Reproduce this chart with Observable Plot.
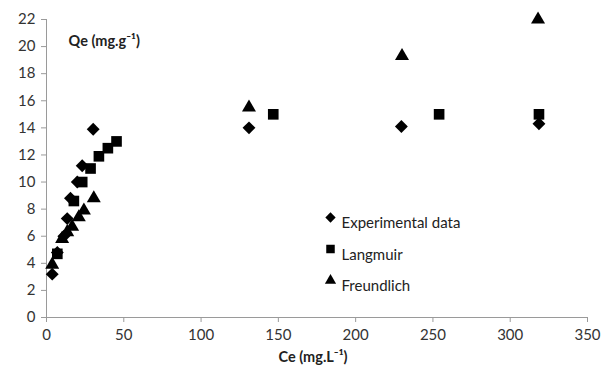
<!DOCTYPE html>
<html>
<head>
<meta charset="utf-8">
<script src="https://cdn.jsdelivr.net/npm/d3@7"></script>
<script src="https://cdn.jsdelivr.net/npm/@observablehq/plot@0.6"></script>
<style>
  html, body { margin: 0; padding: 0; background: #fff; }
  #chart svg { display: block; }
</style>
</head>
<body>
<div id="chart"></div>
<script>
// Experimental data (diamonds)
const expCe = [3.7, 7.0, 11.2, 13.4, 15.5, 19.9, 23.1, 30.2, 131, 229.6, 318.6];
const expQe = [3.2, 4.8, 6.0, 7.3, 8.8, 10.0, 11.2, 13.9, 14.0, 14.1, 14.3];
// Langmuir (squares)
const lanCe = [7.0, 17.7, 23.1, 28.5, 33.9, 39.7, 45.3, 146.7, 254, 318.6];
const lanQe = [4.7, 8.6, 10.0, 11.0, 11.9, 12.5, 13.0, 15.0, 15.0, 15.0];
// Freundlich (triangles)
const freCe = [3.7, 10.1, 13.4, 16.6, 20.9, 24.2, 30.6, 131, 230, 318];
const freQe = [3.9, 5.8, 6.3, 6.7, 7.4, 7.9, 8.8, 15.5, 19.3, 22.0];

const seriesNames = ["Experimental data", "Langmuir", "Freundlich"];
const xTicks = [0, 50, 100, 150, 200, 250, 300, 350];
const yTicks = [0, 2, 4, 6, 8, 10, 12, 14, 16, 18, 20, 22];
const yTitle = "Qe (mg.g⁻¹)";
const xTitle = "Ce (mg.L⁻¹)";

const toRows = (xs, ys) => xs.map((x, i) => ({x, y: ys[i]}));
const expRows = toRows(expCe, expQe);
const lanRows = toRows(lanCe, lanQe);
const freRows = toRows(freCe, freQe);

const symbols = ["diamond2", "square", "triangle"];
const radii = [5.8, 6.0, 5.2];

const legendMarks = [];
seriesNames.forEach((name, i) => {
  legendMarks.push(Plot.dot([name], {frameAnchor: "top-left", dx: 284, dy: 198 + i * 31.5,
    symbol: symbols[i], r: radii[i] * 0.8, fill: "#000", stroke: "none"}));
  legendMarks.push(Plot.text([name], {frameAnchor: "top-left", dx: 295, dy: 198 + i * 31.5,
    text: d => d, textAnchor: "start", fontSize: 15, fill: "#222"}));
});

const chart = Plot.plot({
  width: 605,
  height: 373,
  marginLeft: 46,
  marginRight: 18,
  marginTop: 19,
  marginBottom: 56,
  style: {fontFamily: "Lato, 'Open Sans', sans-serif", fontSize: "14px", background: "#fff"},
  x: {domain: [0, 350], ticks: xTicks, label: null},
  y: {domain: [0, 22], ticks: yTicks, label: null},
  marks: [
    Plot.ruleY([0], {stroke: "#9a9a9a"}),
    Plot.ruleX([0], {stroke: "#9a9a9a"}),
    Plot.axisX({ticks: xTicks, tickSize: 5, tickPadding: 7, stroke: "#9a9a9a", fill: "#333", fontSize: 15, label: null}),
    Plot.axisY({ticks: yTicks, tickSize: 5, tickPadding: 6, stroke: "#9a9a9a", fill: "#333", fontSize: 15, label: null}),
    Plot.dot(expRows, {x: "x", y: "y", symbol: symbols[0], r: radii[0], fill: "#000", stroke: "none"}),
    Plot.dot(lanRows, {x: "x", y: "y", symbol: symbols[1], r: radii[1], fill: "#000", stroke: "none"}),
    Plot.dot(freRows, {x: "x", y: "y", symbol: symbols[2], r: radii[2], fill: "#000", stroke: "none"}),
    Plot.text([yTitle], {frameAnchor: "top-left", dx: 22, dy: 16, text: d => d, textAnchor: "start",
      fontSize: 14.5, fontWeight: "bold", fill: "#222"}),
    Plot.text([xTitle], {frameAnchor: "bottom", dx: -4, dy: 44, text: d => d,
      fontSize: 14.5, fontWeight: "bold", fill: "#222"}),
    ...legendMarks
  ]
});
document.getElementById("chart").appendChild(chart);
</script>
</body>
</html>
